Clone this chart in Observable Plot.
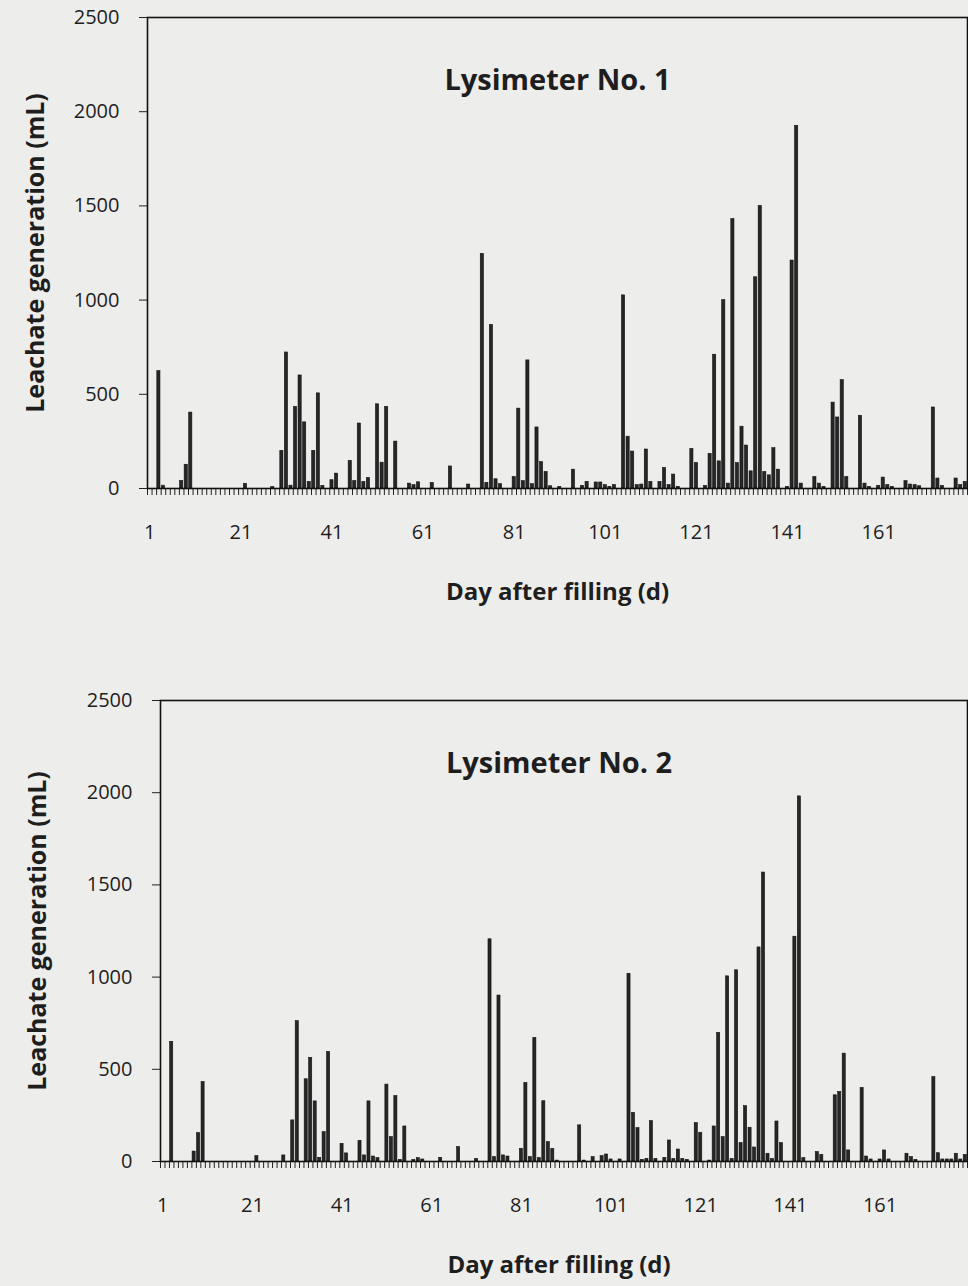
<!DOCTYPE html>
<html><head><meta charset="utf-8">
<script src="https://cdn.jsdelivr.net/npm/d3@7"></script>
<script src="https://cdn.jsdelivr.net/npm/@observablehq/plot@0.6"></script>
<style>
body{margin:0;background:#ededeb;}
#c svg{display:block}
</style></head><body><div id="c"></div>
<script>
const dayLabels = [1,21,41,61,81,101,121,141,161];
const yTicks = [0,500,1000,1500,2000,2500];
const nDays = 180;
const titles = ["Lysimeter No. 1", "Lysimeter No. 2"];
const xLabel = "Day after filling (d)";
const yLabel = "Leachate generation (mL)";

const days1 = [3,4,8,9,10,22,28,30,31,32,33,34,35,36,37,38,39,41,42,45,46,47,48,49,51,52,53,55,58,59,60,63,67,71,74,75,76,77,78,81,82,83,84,85,86,87,88,89,91,94,96,97,99,100,101,102,103,105,106,107,108,109,110,111,113,114,115,116,117,120,121,123,124,125,126,127,128,129,130,131,132,133,134,135,136,137,138,139,141,142,143,144,147,148,149,151,152,153,154,157,158,159,161,162,163,164,167,168,169,170,173,174,175,178,179,180];
const vals1 = [623,15,40,126,403,25,8,200,722,15,433,600,351,35,200,505,14,44,79,147,40,345,35,56,447,137,433,249,26,18,33,30,117,21,1245,30,868,49,23,61,424,39,680,23,324,140,88,12,9,100,14,35,32,32,18,9,18,1025,275,196,18,21,207,35,35,109,18,74,9,210,135,14,184,710,144,1000,26,1430,135,328,228,91,1121,1500,88,70,214,100,9,1210,1925,26,61,26,9,456,377,575,61,386,26,9,14,58,18,9,39,21,18,12,430,53,14,53,18,35];

const days2 = [3,8,9,10,22,28,30,31,33,34,35,36,37,38,41,42,45,46,47,48,49,51,52,53,54,55,57,58,59,63,67,71,74,75,76,77,78,81,82,83,84,85,86,87,88,89,94,95,97,99,100,101,103,105,106,107,108,109,110,111,113,114,115,116,117,118,120,121,123,124,125,126,127,128,129,130,131,132,133,134,135,136,137,138,139,142,143,144,147,148,151,152,153,154,157,158,159,161,162,163,167,168,169,173,174,175,176,177,178,179,180];
const vals2 = [649,54,154,431,29,33,223,761,446,562,326,20,159,594,96,44,112,33,326,27,18,417,132,355,9,190,9,18,11,20,78,14,1205,24,900,33,27,69,426,24,670,18,327,105,68,5,196,5,24,29,38,11,11,1018,264,181,9,14,219,14,20,114,14,65,14,9,208,156,5,190,697,132,1004,14,1037,100,300,183,76,1161,1567,42,14,217,100,1219,1980,18,51,36,359,377,585,60,399,27,11,11,60,11,42,24,9,458,45,11,11,11,42,11,36];

function panel({days, vals, title, height, marginTop, marginBottom, marginLeft, titleDx, labelDx}) {
  const data = days.map((d, i) => ({day: d, value: vals[i]}));
  const allDays = d3.range(1, nDays + 2);
  const font = "'Open Sans', Lato, sans-serif";
  return Plot.plot({
    width: 968, height, marginTop, marginBottom, marginLeft, marginRight: 1,
    style: {background: "transparent", fontFamily: font, fontSize: "20px", color: "#1e1e1e"},
    x: {domain: [1, nDays + 1], axis: null},
    y: {domain: [0, 2500], axis: null},
    marks: [
      Plot.rectY(data, {x: "day", y: "value", interval: 1, insetLeft: 0.7, insetRight: 0.7, fill: "#262626", stroke: "#111", strokeWidth: 0.6}),
      Plot.axisX({ticks: allDays, tickSize: 7, tickFormat: () => "", label: null, stroke: "#222"}),
      Plot.axisX({ticks: dayLabels.map(d => d + 0.5), tickSize: 0, tickPadding: 36, tickFormat: d => String(d - 0.5), label: null, fontSize: 20}),
      Plot.axisY({ticks: yTicks, tickSize: 8, tickPadding: 20, tickFormat: d => String(d), label: null, fontSize: 20, stroke: "#222"}),
      Plot.frame({stroke: "#111", strokeWidth: 1.6}),
      Plot.text([title], {frameAnchor: "top", lineAnchor: "middle", dy: 63, dx: titleDx, fontWeight: "bold", fontSize: 29, fill: "#1e1e1e"}),
      Plot.text([xLabel], {frameAnchor: "bottom", lineAnchor: "middle", dy: 104, dx: titleDx, fontWeight: "bold", fontSize: 24, fill: "#1e1e1e"}),
      Plot.text([yLabel], {frameAnchor: "left", textAnchor: "middle", lineAnchor: "middle", dx: labelDx, rotate: -90, fontWeight: "bold", fontSize: 25, fill: "#1e1e1e"})
    ]
  });
}

const c = document.getElementById("c");
c.append(panel({days: days1, vals: vals1, title: titles[0], height: 640, marginTop: 17, marginBottom: 152, marginLeft: 147, titleDx: 0, labelDx: -112}));
c.append(panel({days: days2, vals: vals2, title: titles[1], height: 646, marginTop: 60, marginBottom: 125, marginLeft: 160, titleDx: -5, labelDx: -123}));
</script></body></html>
